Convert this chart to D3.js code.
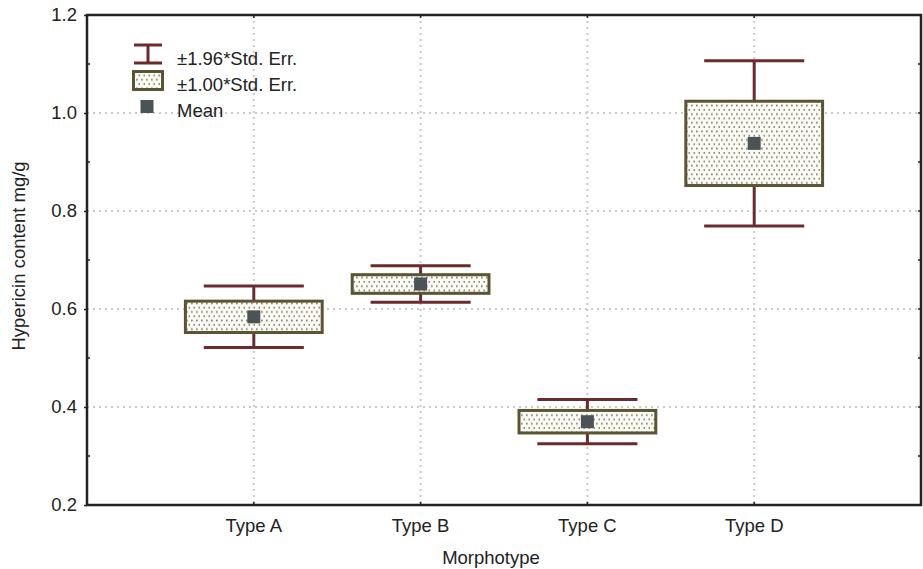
<!DOCTYPE html>
<html>
<head>
<meta charset="utf-8">
<script src="https://cdn.jsdelivr.net/npm/d3@7"></script>
<style>
  html, body { margin: 0; padding: 0; background: #fff; }
  svg { display: block; font-family: "Liberation Sans", Arial, sans-serif; }
</style>
</head>
<body>
<svg id="chart" width="923" height="569"></svg>
<script>
// Morphotype groups with mean hypericin content and standard error
const categories = ["Type A", "Type B", "Type C", "Type D"];
const means = [0.584, 0.651, 0.370, 0.938];
const stdErrs = [0.032, 0.019, 0.023, 0.086];
const yTicks = [0.2, 0.4, 0.6, 0.8, 1.0, 1.2];
const legendLabels = ["±1.96*Std. Err.", "±1.00*Std. Err.", "Mean"];

const W = 923, H = 569;
const margin = { left: 87, right: 2, top: 15, bottom: 64 };
const svg = d3.select("#chart");

const x = d3.scaleLinear().domain([0, categories.length + 1]).range([margin.left, W - margin.right]);
const y = d3.scaleLinear().domain([0.2, 1.2]).range([H - margin.bottom, margin.top]);
const unit = x(1) - x(0);

const whiskerColor = "#6b2b2d";
const boxColor = "#5b5432";
const meanColor = "#4a5457";
const gridColor = "#c9c9c9";
const textColor = "#222";
const fontSize = 18.5;

// dotted fill for the ±1 SE boxes
const defs = svg.append("defs");
const pat = defs.append("pattern")
  .attr("id", "dots").attr("patternUnits", "userSpaceOnUse")
  .attr("width", 5).attr("height", 8.6);
pat.append("rect").attr("width", 5).attr("height", 8.6).attr("fill", "#fbfbf6");
pat.append("rect").attr("x", 1).attr("y", 1.5).attr("width", 1.7).attr("height", 1.7).attr("fill", "#857f68");
pat.append("rect").attr("x", 3.5).attr("y", 5.8).attr("width", 1.7).attr("height", 1.7).attr("fill", "#857f68");

// grid
const grid = svg.append("g");
grid.selectAll("line.h").data(yTicks.slice(1, -1)).join("line")
  .attr("x1", x(0)).attr("x2", x(categories.length + 1))
  .attr("y1", d => y(d)).attr("y2", d => y(d))
  .attr("stroke", gridColor).attr("stroke-width", 2).attr("stroke-dasharray", "2,4");
grid.selectAll("line.v").data(categories).join("line")
  .attr("x1", (d, i) => x(i + 1)).attr("x2", (d, i) => x(i + 1))
  .attr("y1", y(1.2)).attr("y2", y(0.2))
  .attr("stroke", gridColor).attr("stroke-width", 2).attr("stroke-dasharray", "2,4");

// y axis labels and ticks
const yAxis = d3.axisLeft(y).tickValues(yTicks).tickFormat(d3.format(".1f")).tickSize(3).tickPadding(7);
const ya = svg.append("g").attr("transform", `translate(${margin.left},0)`).call(yAxis);
ya.select(".domain").remove();
ya.selectAll(".tick line").attr("stroke", textColor).attr("stroke-width", 1.5);
ya.selectAll("text").attr("font-size", fontSize).attr("fill", textColor)
  .attr("font-family", "Liberation Sans, Arial, sans-serif");

// minor ticks on both vertical edges
const minor = d3.range(0.3, 1.2, 0.2);
svg.append("g").selectAll("line").data(minor).join("line")
  .attr("x1", x(0)).attr("x2", x(0) + 3).attr("y1", d => y(d)).attr("y2", d => y(d))
  .attr("stroke", textColor).attr("stroke-width", 1.5);
svg.append("g").selectAll("line").data(minor.concat(yTicks)).join("line")
  .attr("x1", x(5) - 3).attr("x2", x(5)).attr("y1", d => y(d)).attr("y2", d => y(d))
  .attr("stroke", textColor).attr("stroke-width", 1.5);

// x axis category labels with small inner ticks
const xa = svg.append("g");
xa.selectAll("text").data(categories).join("text")
  .attr("x", (d, i) => x(i + 1)).attr("y", y(0.2) + 27)
  .attr("text-anchor", "middle").attr("font-size", fontSize).attr("fill", textColor).text(d => d);
xa.selectAll("line.b").data(categories).join("line")
  .attr("x1", (d, i) => x(i + 1)).attr("x2", (d, i) => x(i + 1))
  .attr("y1", y(0.2)).attr("y2", y(0.2) - 3).attr("stroke", textColor).attr("stroke-width", 1.5);
xa.selectAll("line.t").data(categories).join("line")
  .attr("x1", (d, i) => x(i + 1)).attr("x2", (d, i) => x(i + 1))
  .attr("y1", y(1.2)).attr("y2", y(1.2) + 3).attr("stroke", textColor).attr("stroke-width", 1.5);

// whiskers ±1.96 SE
const groups = svg.append("g").selectAll("g").data(categories).join("g");
groups.append("line")
  .attr("x1", (d, i) => x(i + 1)).attr("x2", (d, i) => x(i + 1))
  .attr("y1", (d, i) => y(means[i] + 1.96 * stdErrs[i]))
  .attr("y2", (d, i) => y(means[i] - 1.96 * stdErrs[i]))
  .attr("stroke", whiskerColor).attr("stroke-width", 3);
[1.96, -1.96].forEach(k => {
  groups.append("line")
    .attr("x1", (d, i) => x(i + 1) - unit * 0.3).attr("x2", (d, i) => x(i + 1) + unit * 0.3)
    .attr("y1", (d, i) => y(means[i] + k * stdErrs[i]))
    .attr("y2", (d, i) => y(means[i] + k * stdErrs[i]))
    .attr("stroke", whiskerColor).attr("stroke-width", 3);
});

// boxes ±1 SE
groups.append("rect")
  .attr("x", (d, i) => x(i + 1) - unit * 0.41)
  .attr("width", unit * 0.82)
  .attr("y", (d, i) => y(means[i] + stdErrs[i]))
  .attr("height", (d, i) => y(means[i] - stdErrs[i]) - y(means[i] + stdErrs[i]))
  .attr("fill", "url(#dots)").attr("stroke", boxColor).attr("stroke-width", 3);

// mean markers
groups.append("rect")
  .attr("x", (d, i) => x(i + 1) - 6.5).attr("y", (d, i) => y(means[i]) - 6.5)
  .attr("width", 13).attr("height", 13).attr("fill", meanColor);

// frame
svg.append("rect")
  .attr("x", x(0)).attr("y", y(1.2))
  .attr("width", x(5) - x(0)).attr("height", y(0.2) - y(1.2))
  .attr("fill", "none").attr("stroke", textColor).attr("stroke-width", 2.5);

// legend
const lg = svg.append("g");
lg.append("line").attr("x1", 148).attr("x2", 148).attr("y1", 45).attr("y2", 63)
  .attr("stroke", whiskerColor).attr("stroke-width", 3);
lg.append("line").attr("x1", 134).attr("x2", 162).attr("y1", 45).attr("y2", 45)
  .attr("stroke", whiskerColor).attr("stroke-width", 3);
lg.append("line").attr("x1", 134).attr("x2", 162).attr("y1", 63).attr("y2", 63)
  .attr("stroke", whiskerColor).attr("stroke-width", 3);
lg.append("rect").attr("x", 133.5).attr("y", 71.5).attr("width", 29).attr("height", 18)
  .attr("fill", "url(#dots)").attr("stroke", boxColor).attr("stroke-width", 3);
lg.append("rect").attr("x", 140.5).attr("y", 100).attr("width", 13).attr("height", 13).attr("fill", meanColor);
lg.selectAll("text").data(legendLabels).join("text")
  .attr("x", 177).attr("y", (d, i) => 65 + i * 26)
  .attr("font-size", fontSize).attr("fill", textColor).text(d => d);

// axis titles
svg.append("text").attr("x", 491).attr("y", 564).attr("text-anchor", "middle")
  .attr("font-size", fontSize).attr("fill", textColor).text("Morphotype");
svg.append("text").attr("transform", "translate(25,256) rotate(-90)").attr("text-anchor", "middle")
  .attr("font-size", fontSize).attr("fill", textColor).text("Hypericin content mg/g");
</script>
</body>
</html>
